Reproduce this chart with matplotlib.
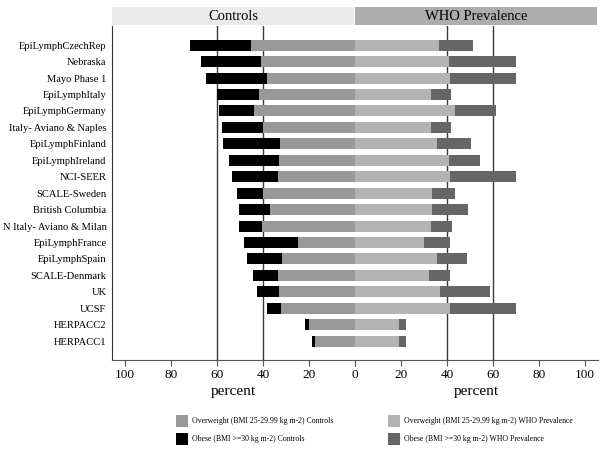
import matplotlib
matplotlib.use("Agg")
import matplotlib.pyplot as plt
from matplotlib.patches import Rectangle, Patch

plt.rcParams['font.family'] = ['Liberation Serif', 'DejaVu Serif']

studies = ["EpiLymphCzechRep", "Nebraska", "Mayo Phase 1", "EpiLymphItaly",
           "EpiLymphGermany", "Italy- Aviano & Naples", "EpiLymphFinland",
           "EpiLymphIreland", "NCI-SEER", "SCALE-Sweden", "British Columbia",
           "N Italy- Aviano & Milan", "EpiLymphFrance", "EpiLymphSpain",
           "SCALE-Denmark", "UK", "UCSF", "HERPACC2", "HERPACC1"]

ctrl_overweight = [45.2, 41.0, 38.3, 41.9, 43.8, 39.9, 32.8, 33.0, 33.6, 39.9,
                   36.8, 40.3, 24.9, 31.6, 33.5, 33.0, 32.3, 19.9, 17.2]
ctrl_obese = [26.5, 26.0, 26.5, 18.0, 15.3, 17.9, 24.6, 21.9, 19.9, 11.5,
              13.8, 10.1, 23.5, 15.4, 10.8, 9.8, 6.1, 1.7, 1.6]

who_overweight = [36.5, 41.0, 41.2, 32.9, 43.3, 32.9, 35.5, 40.7, 41.2, 33.5,
                  33.6, 32.9, 30.1, 35.5, 32.2, 36.8, 41.2, 19.3, 19.3]
who_obese = [14.9, 28.9, 28.7, 9.0, 18.0, 9.0, 14.9, 13.6, 28.7, 10.1,
             15.7, 9.1, 11.2, 13.2, 9.1, 22.0, 28.7, 3.0, 3.0]

panel_titles = ["Controls", "WHO Prevalence"]
xticks = [0, 20, 40, 60, 80, 100]
xticklabels_left = ["", "20", "40", "60", "80", "100"]
xticklabels_right = ["0", "20", "40", "60", "80", "100"]
gridlines = [40, 60]

legend_labels = ["Overweight (BMI 25-29.99 kg m-2) Controls",
                 "Obese (BMI >=30 kg m-2) Controls",
                 "Overweight (BMI 25-29.99 kg m-2) WHO Prevalence",
                 "Obese (BMI >=30 kg m-2) WHO Prevalence"]

c_ctrl_ow = "#999999"
c_ctrl_ob = "#000000"
c_who_ow = "#b3b3b3"
c_who_ob = "#666666"

W, H = 605, 457
fig = plt.figure(figsize=(W / 100, H / 100), dpi=100)

def fx(px):
    return px / W

def fy(py):
    return 1 - py / H

ax_top, ax_bot = 25.5, 359.5
axL = fig.add_axes([fx(112), fy(ax_bot), fx(355) - fx(112), fy(ax_top) - fy(ax_bot)])
axR = fig.add_axes([fx(355), fy(ax_bot), fx(598) - fx(355), fy(ax_top) - fy(ax_bot)])

ypos = list(range(len(studies)))
bh = 0.67

axL.barh(ypos, ctrl_overweight, height=bh, color=c_ctrl_ow, linewidth=0)
axL.barh(ypos, ctrl_obese, left=ctrl_overweight, height=bh, color=c_ctrl_ob, linewidth=0)
axR.barh(ypos, who_overweight, height=bh, color=c_who_ow, linewidth=0)
axR.barh(ypos, who_obese, left=who_overweight, height=bh, color=c_who_ob, linewidth=0)

xmax = 105.65
axL.set_xlim(xmax, 0)
axR.set_xlim(0, xmax)
for ax, lbls in ((axL, xticklabels_left), (axR, xticklabels_right)):
    ax.set_ylim(len(studies) - 1 + 1.12, -1.2)
    for g in gridlines:
        ax.axvline(g, color="#3a3a3a", linewidth=1.0, zorder=0.5)
    ax.set_xticks(xticks)
    ax.set_xticklabels(lbls)
    ax.tick_params(axis="x", direction="out", length=4, width=0.8, color="#555555",
                   labelsize=9.5, pad=3)
    ax.set_xlabel("percent", fontsize=11, labelpad=3)
    ax.spines["top"].set_visible(False)
    ax.spines["right"].set_visible(False)
    ax.spines["bottom"].set_color("#555555")
    ax.set_facecolor("none")

axL.spines["left"].set_color("#333333")
axL.set_yticks(ypos)
axL.set_yticklabels(studies, fontsize=7.6)
axL.tick_params(axis="y", length=0, pad=4)
axR.spines["left"].set_visible(False)
axR.set_yticks([])

# strips
strip_colors = ["#ebebeb", "#adadad"]
strip_x = [(112, 354), (355, 597)]
for (x0, x1), title, col in zip(strip_x, panel_titles, strip_colors):
    fig.patches.append(Rectangle((fx(x0), fy(25.3)), fx(x1) - fx(x0), fy(7) - fy(25.3),
                                 transform=fig.transFigure, facecolor=col,
                                 edgecolor="none"))
    fig.text((fx(x0) + fx(x1)) / 2, (fy(7) + fy(25.3)) / 2, title, ha="center",
             va="center", fontsize=10.5)

handles = [Patch(facecolor=c) for c in (c_ctrl_ow, c_ctrl_ob, c_who_ow, c_who_ob)]
legkw = dict(frameon=False, fontsize=5.6, handlelength=1.6, handleheight=2.0,
             handletextpad=0.4, labelspacing=0.75, borderpad=0, borderaxespad=0)
leg1 = fig.legend(handles[:2], legend_labels[:2], loc="upper left",
                  bbox_to_anchor=(fx(176), fy(415)), **legkw)
leg2 = fig.legend(handles[2:], legend_labels[2:], loc="upper left",
                  bbox_to_anchor=(fx(388), fy(415)), **legkw)

fig.savefig("out.png", dpi=100)
